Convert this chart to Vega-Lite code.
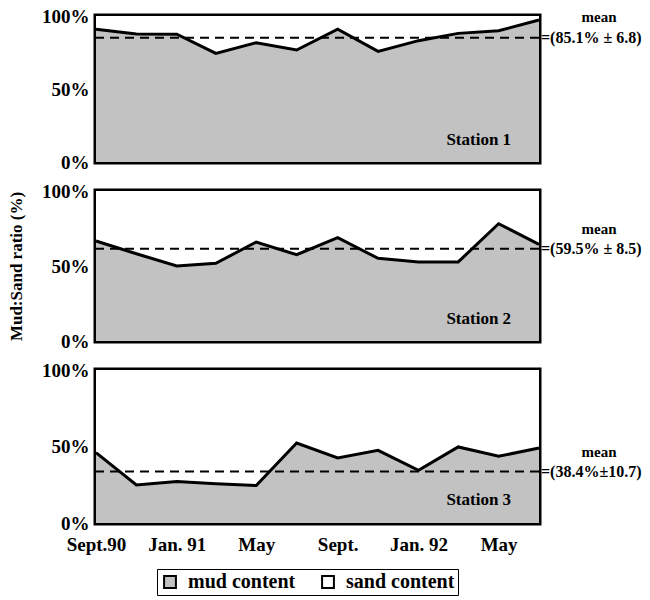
{
  "$schema": "https://vega.github.io/schema/vega-lite/v6.json",
  "padding": {"left": 5, "top": 4, "right": 2, "bottom": 2},
  "config": {
    "font": "Liberation Serif",
    "view": {"stroke": "black", "strokeWidth": 5},
    "axis": {"labelColor": "black", "labelFont": "Liberation Serif", "titleColor": "black", "titleFont": "Liberation Serif", "minExtent": 0},
    "legend": {"labelFont": "Liberation Serif"}
  },
  "datasets": {
    "mud": [
      {"station": 1, "date": "1990-09-01", "mud": 90.9},
      {"station": 1, "date": "1990-11-01", "mud": 87.7},
      {"station": 1, "date": "1991-01-01", "mud": 87.5},
      {"station": 1, "date": "1991-03-01", "mud": 74.4},
      {"station": 1, "date": "1991-05-01", "mud": 81.7},
      {"station": 1, "date": "1991-07-01", "mud": 76.7},
      {"station": 1, "date": "1991-09-01", "mud": 90.9},
      {"station": 1, "date": "1991-11-01", "mud": 75.8},
      {"station": 1, "date": "1992-01-01", "mud": 83.1},
      {"station": 1, "date": "1992-03-01", "mud": 88.1},
      {"station": 1, "date": "1992-05-01", "mud": 89.9},
      {"station": 1, "date": "1992-07-01", "mud": 97.3},
      {"station": 2, "date": "1990-09-01", "mud": 66.7},
      {"station": 2, "date": "1990-11-01", "mud": 58.2},
      {"station": 2, "date": "1991-01-01", "mud": 50.0},
      {"station": 2, "date": "1991-03-01", "mud": 51.8},
      {"station": 2, "date": "1991-05-01", "mud": 66.0},
      {"station": 2, "date": "1991-07-01", "mud": 57.5},
      {"station": 2, "date": "1991-09-01", "mud": 68.9},
      {"station": 2, "date": "1991-11-01", "mud": 55.1},
      {"station": 2, "date": "1992-01-01", "mud": 52.7},
      {"station": 2, "date": "1992-03-01", "mud": 52.7},
      {"station": 2, "date": "1992-05-01", "mud": 78.2},
      {"station": 2, "date": "1992-07-01", "mud": 64.4},
      {"station": 3, "date": "1990-09-01", "mud": 46.0},
      {"station": 3, "date": "1990-11-01", "mud": 24.9},
      {"station": 3, "date": "1991-01-01", "mud": 27.1},
      {"station": 3, "date": "1991-03-01", "mud": 25.6},
      {"station": 3, "date": "1991-05-01", "mud": 24.5},
      {"station": 3, "date": "1991-07-01", "mud": 52.3},
      {"station": 3, "date": "1991-09-01", "mud": 42.5},
      {"station": 3, "date": "1991-11-01", "mud": 47.5},
      {"station": 3, "date": "1992-01-01", "mud": 34.4},
      {"station": 3, "date": "1992-03-01", "mud": 49.7},
      {"station": 3, "date": "1992-05-01", "mud": 43.6},
      {"station": 3, "date": "1992-07-01", "mud": 49.0}
    ],
    "stats": [
      {"station": 1, "level": 85.1, "label": "=(85.1% ± 6.8)", "name": "Station 1"},
      {"station": 2, "level": 61.5, "label": "=(59.5% ± 8.5)", "name": "Station 2"},
      {"station": 3, "level": 33.6, "label": "=(38.4%±10.7)", "name": "Station 3"}
    ]
  },
  "spacing": 4,
  "vconcat": [
    {
      "width": 443, "height": 146,
      "layer": [
        {"data": {"name": "mud"}, "transform": [{"filter": "datum.station == 1"}], "mark": {"type": "area", "opacity": 1},
         "encoding": {
           "x": {"field": "date", "type": "temporal", "scale": {"type": "utc", "domain": [{"year":1990,"month":9,"date":1,"utc":true}, {"year":1992,"month":7,"date":1,"utc":true}]},
                 "axis": {"values": [{"year":1990,"month":9,"date":1,"utc":true},{"year":1990,"month":11,"date":1,"utc":true},{"year":1991,"month":1,"date":1,"utc":true},{"year":1991,"month":3,"date":1,"utc":true},{"year":1991,"month":5,"date":1,"utc":true},{"year":1991,"month":7,"date":1,"utc":true},{"year":1991,"month":9,"date":1,"utc":true},{"year":1991,"month":11,"date":1,"utc":true},{"year":1992,"month":1,"date":1,"utc":true},{"year":1992,"month":3,"date":1,"utc":true},{"year":1992,"month":5,"date":1,"utc":true}],
                          "labels": false, "title": null, "grid": false, "domain": false, "tickSize": -4, "tickColor": "black", "tickWidth": 1, "minExtent": 0, "maxExtent": 0}},
           "y": {"field": "mud", "type": "quantitative", "scale": {"domain": [0, 100]},
                 "axis": {"values": [0, 50, 100], "labelExpr": "datum.value + '%'", "grid": false, "domain": false, "ticks": false, "labelFontSize": 19, "labelFontWeight": "bold", "labelPadding": 7, "title": null}},
           "color": {"datum": "mud content", "type": "nominal", "scale": {"domain": ["mud content", "sand content"], "range": ["#c2c2c2", "#ffffff"]},
                     "legend": {"orient": "none", "legendX": 61, "legendY": 553, "direction": "horizontal", "title": null, "symbolType": "square", "symbolSize": 140, "symbolStrokeColor": "black", "symbolStrokeWidth": 2, "symbolOpacity": 1, "labelFontSize": 20, "labelFontWeight": "bold", "labelColor": "black", "strokeColor": "black", "padding": 3, "columnPadding": 22, "labelOffset": 8}}
         }},
        {"data": {"name": "mud"}, "transform": [{"filter": "datum.station == 1"}], "mark": {"type": "area", "opacity": 1},
         "encoding": {"x": {"field": "date", "type": "temporal"}, "y": {"field": "mud", "type": "quantitative"}, "y2": {"datum": 100}, "color": {"datum": "sand content", "type": "nominal"}}},
        {"data": {"name": "mud"}, "transform": [{"filter": "datum.station == 1"}], "mark": {"type": "line", "color": "black", "strokeWidth": 3},
         "encoding": {"x": {"field": "date", "type": "temporal"}, "y": {"field": "mud", "type": "quantitative"}}},
        {"data": {"name": "stats"}, "transform": [{"filter": "datum.station == 1"}], "mark": {"type": "rule", "color": "black", "strokeWidth": 2, "strokeDash": [9, 6]},
         "encoding": {"y": {"field": "level", "type": "quantitative"}}},
        {"data": {"name": "stats"}, "transform": [{"filter": "datum.station == 1"}], "mark": {"type": "text", "text": "mean", "fontSize": 15, "fontWeight": "bold", "align": "center", "baseline": "middle", "dx": 60, "dy": -21, "color": "black"},
         "encoding": {"x": {"datum": {"year":1992,"month":7,"date":1,"utc":true}, "type": "temporal"}, "y": {"field": "level", "type": "quantitative"}}},
        {"data": {"name": "stats"}, "transform": [{"filter": "datum.station == 1"}], "mark": {"type": "text", "fontSize": 16, "fontWeight": "bold", "align": "left", "baseline": "middle", "dx": 2, "color": "black"},
         "encoding": {"x": {"datum": {"year":1992,"month":7,"date":1,"utc":true}, "type": "temporal"}, "y": {"field": "level", "type": "quantitative"}, "text": {"field": "label"}}},
        {"data": {"name": "stats"}, "transform": [{"filter": "datum.station == 1"}], "mark": {"type": "text", "fontSize": 17, "fontWeight": "bold", "align": "center", "baseline": "middle", "color": "black"},
         "encoding": {"x": {"datum": {"year":1992,"month":4,"date":1,"utc":true}, "type": "temporal"}, "y": {"datum": 15, "type": "quantitative"}, "text": {"field": "name"}}}
      ]
    },
    {
      "width": 443, "height": 150,
      "layer": [
        {"data": {"name": "mud"}, "transform": [{"filter": "datum.station == 2"}], "mark": {"type": "area", "opacity": 1},
         "encoding": {
           "x": {"field": "date", "type": "temporal", "scale": {"type": "utc", "domain": [{"year":1990,"month":9,"date":1,"utc":true}, {"year":1992,"month":7,"date":1,"utc":true}]},
                 "axis": {"values": [{"year":1990,"month":9,"date":1,"utc":true},{"year":1990,"month":11,"date":1,"utc":true},{"year":1991,"month":1,"date":1,"utc":true},{"year":1991,"month":3,"date":1,"utc":true},{"year":1991,"month":5,"date":1,"utc":true},{"year":1991,"month":7,"date":1,"utc":true},{"year":1991,"month":9,"date":1,"utc":true},{"year":1991,"month":11,"date":1,"utc":true},{"year":1992,"month":1,"date":1,"utc":true},{"year":1992,"month":3,"date":1,"utc":true},{"year":1992,"month":5,"date":1,"utc":true}],
                          "labels": false, "title": null, "grid": false, "domain": false, "tickSize": -4, "tickColor": "black", "tickWidth": 1, "minExtent": 0, "maxExtent": 0}},
           "y": {"field": "mud", "type": "quantitative", "scale": {"domain": [0, 100]},
                 "axis": {"values": [0, 50, 100], "labelExpr": "datum.value + '%'", "grid": false, "domain": false, "ticks": false, "labelFontSize": 19, "labelFontWeight": "bold", "labelPadding": 7, "title": "Mud:Sand ratio (%)", "titleFontSize": 17, "titleFontWeight": "bold", "titlePadding": 16}},
           "color": {"datum": "mud content", "type": "nominal"}
         }},
        {"data": {"name": "mud"}, "transform": [{"filter": "datum.station == 2"}], "mark": {"type": "area", "opacity": 1},
         "encoding": {"x": {"field": "date", "type": "temporal"}, "y": {"field": "mud", "type": "quantitative"}, "y2": {"datum": 100}, "color": {"datum": "sand content", "type": "nominal"}}},
        {"data": {"name": "mud"}, "transform": [{"filter": "datum.station == 2"}], "mark": {"type": "line", "color": "black", "strokeWidth": 3},
         "encoding": {"x": {"field": "date", "type": "temporal"}, "y": {"field": "mud", "type": "quantitative"}}},
        {"data": {"name": "stats"}, "transform": [{"filter": "datum.station == 2"}], "mark": {"type": "rule", "color": "black", "strokeWidth": 2, "strokeDash": [9, 6]},
         "encoding": {"y": {"field": "level", "type": "quantitative"}}},
        {"data": {"name": "stats"}, "transform": [{"filter": "datum.station == 2"}], "mark": {"type": "text", "text": "mean", "fontSize": 15, "fontWeight": "bold", "align": "center", "baseline": "middle", "dx": 60, "dy": -20, "color": "black"},
         "encoding": {"x": {"datum": {"year":1992,"month":7,"date":1,"utc":true}, "type": "temporal"}, "y": {"field": "level", "type": "quantitative"}}},
        {"data": {"name": "stats"}, "transform": [{"filter": "datum.station == 2"}], "mark": {"type": "text", "fontSize": 16, "fontWeight": "bold", "align": "left", "baseline": "middle", "dx": 2, "color": "black"},
         "encoding": {"x": {"datum": {"year":1992,"month":7,"date":1,"utc":true}, "type": "temporal"}, "y": {"field": "level", "type": "quantitative"}, "text": {"field": "label"}}},
        {"data": {"name": "stats"}, "transform": [{"filter": "datum.station == 2"}], "mark": {"type": "text", "fontSize": 17, "fontWeight": "bold", "align": "center", "baseline": "middle", "color": "black"},
         "encoding": {"x": {"datum": {"year":1992,"month":4,"date":1,"utc":true}, "type": "temporal"}, "y": {"datum": 15, "type": "quantitative"}, "text": {"field": "name"}}}
      ]
    },
    {
      "width": 443, "height": 153,
      "layer": [
        {"data": {"name": "mud"}, "transform": [{"filter": "datum.station == 3"}], "mark": {"type": "area", "opacity": 1},
         "encoding": {
           "x": {"field": "date", "type": "temporal", "scale": {"type": "utc", "domain": [{"year":1990,"month":9,"date":1,"utc":true}, {"year":1992,"month":7,"date":1,"utc":true}]},
                 "axis": {"values": [{"year":1990,"month":9,"date":1,"utc":true},{"year":1990,"month":11,"date":1,"utc":true},{"year":1991,"month":1,"date":1,"utc":true},{"year":1991,"month":3,"date":1,"utc":true},{"year":1991,"month":5,"date":1,"utc":true},{"year":1991,"month":7,"date":1,"utc":true},{"year":1991,"month":9,"date":1,"utc":true},{"year":1991,"month":11,"date":1,"utc":true},{"year":1992,"month":1,"date":1,"utc":true},{"year":1992,"month":3,"date":1,"utc":true},{"year":1992,"month":5,"date":1,"utc":true}],
                          "labelExpr": "utcmonth(datum.value) == 8 ? (utcyear(datum.value) == 1990 ? 'Sept.90' : 'Sept.') : utcmonth(datum.value) == 0 ? ('Jan. ' + utcFormat(datum.value, '%y')) : utcmonth(datum.value) == 4 ? 'May' : ''",
                          "labelFlush": false, "labelOverlap": false, "labelFontSize": 19, "labelFontWeight": "bold", "labelPadding": 16,
                          "title": null, "grid": false, "domain": false, "tickSize": -4, "tickColor": "black", "tickWidth": 1}},
           "y": {"field": "mud", "type": "quantitative", "scale": {"domain": [0, 100]},
                 "axis": {"values": [0, 50, 100], "labelExpr": "datum.value + '%'", "grid": false, "domain": false, "ticks": false, "labelFontSize": 19, "labelFontWeight": "bold", "labelPadding": 7, "title": null}},
           "color": {"datum": "mud content", "type": "nominal"}
         }},
        {"data": {"name": "mud"}, "transform": [{"filter": "datum.station == 3"}], "mark": {"type": "area", "opacity": 1},
         "encoding": {"x": {"field": "date", "type": "temporal"}, "y": {"field": "mud", "type": "quantitative"}, "y2": {"datum": 100}, "color": {"datum": "sand content", "type": "nominal"}}},
        {"data": {"name": "mud"}, "transform": [{"filter": "datum.station == 3"}], "mark": {"type": "line", "color": "black", "strokeWidth": 3},
         "encoding": {"x": {"field": "date", "type": "temporal"}, "y": {"field": "mud", "type": "quantitative"}}},
        {"data": {"name": "stats"}, "transform": [{"filter": "datum.station == 3"}], "mark": {"type": "rule", "color": "black", "strokeWidth": 2, "strokeDash": [9, 6]},
         "encoding": {"y": {"field": "level", "type": "quantitative"}}},
        {"data": {"name": "stats"}, "transform": [{"filter": "datum.station == 3"}], "mark": {"type": "text", "text": "mean", "fontSize": 15, "fontWeight": "bold", "align": "center", "baseline": "middle", "dx": 60, "dy": -20, "color": "black"},
         "encoding": {"x": {"datum": {"year":1992,"month":7,"date":1,"utc":true}, "type": "temporal"}, "y": {"field": "level", "type": "quantitative"}}},
        {"data": {"name": "stats"}, "transform": [{"filter": "datum.station == 3"}], "mark": {"type": "text", "fontSize": 16, "fontWeight": "bold", "align": "left", "baseline": "middle", "dx": 2, "color": "black"},
         "encoding": {"x": {"datum": {"year":1992,"month":7,"date":1,"utc":true}, "type": "temporal"}, "y": {"field": "level", "type": "quantitative"}, "text": {"field": "label"}}},
        {"data": {"name": "stats"}, "transform": [{"filter": "datum.station == 3"}], "mark": {"type": "text", "fontSize": 17, "fontWeight": "bold", "align": "center", "baseline": "middle", "color": "black"},
         "encoding": {"x": {"datum": {"year":1992,"month":4,"date":1,"utc":true}, "type": "temporal"}, "y": {"datum": 15, "type": "quantitative"}, "text": {"field": "name"}}}
      ]
    }
  ]
}
